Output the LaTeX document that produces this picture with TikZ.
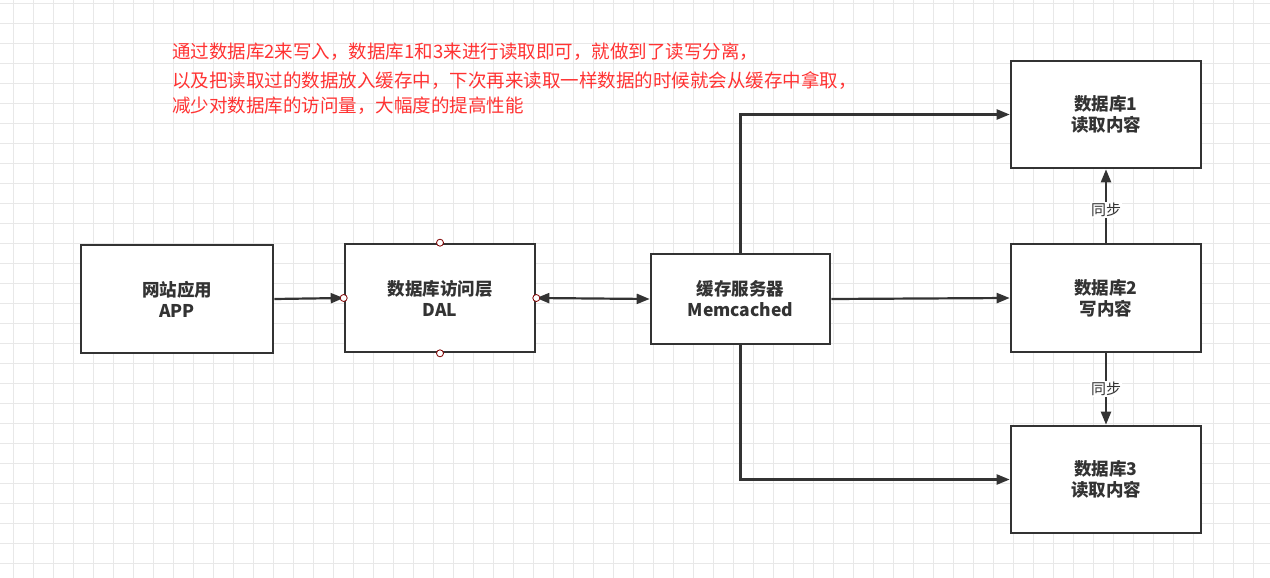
\documentclass[tikz,border=0pt]{standalone}
\usepackage{fontspec}
\setmainfont{Liberation Sans}
\newfontfamily\cjk{Noto Sans CJK SC}
\usetikzlibrary{arrows.meta}
\definecolor{ln}{HTML}{333333}
\definecolor{red1}{HTML}{FF3333}
\begin{document}
\begin{tikzpicture}[x=1pt,y=-1pt,
  box/.style={draw=ln,line width=2.6pt,fill=white,minimum width=#1,align=center,font=\cjk\bfseries\fontsize{17.5}{21}\selectfont,text=ln},
  arr/.style={draw=ln,line width=2.2pt,-{Triangle[length=13pt,width=10pt]}},
  dot/.style={circle,draw=red!50!black,fill=white,inner sep=0pt,minimum size=7pt,line width=0.8pt},
  lab/.style={fill=white,font=\cjk\fontsize{15}{17}\selectfont,text=ln,inner sep=1pt},
  rt/.style={anchor=base west,text=red1,font=\cjk\fontsize{18.5}{22}\selectfont,inner sep=0pt}]
\useasboundingbox (0,0) rectangle (1270,578);
\fill[white] (0,0) rectangle (1270,578);
\foreach \x in {13,33,...,1270} \draw[black!9,line width=0.8pt] (\x,0)--(\x,578);
\foreach \y in {3,23,...,578} \draw[black!9,line width=0.8pt] (0,\y)--(1270,\y);
\node[box=192pt,minimum height=108pt] (app) at (177,299) {网站应用\\APP};
\node[box=190pt,minimum height=108pt] (dal) at (440,298) {数据库访问层\\DAL};
\node[box=179pt,minimum height=90pt] (mem) at (740.5,299) {缓存服务器\\Memcached};
\node[box=190pt,minimum height=107pt] (d1) at (1106,114.5) {数据库1\\读取内容};
\node[box=190pt,minimum height=108pt] (d2) at (1106,298) {数据库2\\写内容};
\node[box=190pt,minimum height=107pt] (d3) at (1106,479.5) {数据库3\\读取内容};
\draw[arr] (app.east) -- (dal.west);
\draw[arr,{Triangle[length=13pt,width=10pt]}-{Triangle[length=13pt,width=10pt]}] (dal.east) -- (mem.west);
\draw[arr] (mem.east) -- (d2.west);
\draw[arr] (mem.north) |- (d1.west);
\draw[arr] (mem.south) |- (d3.west);
\draw[arr] (d2.north) -- node[lab,pos=0.45]{同步} (d1.south);
\draw[arr] (d2.south) -- node[lab,pos=0.5]{同步} (d3.north);
\node[dot] at (dal.north) {};
\node[dot] at (dal.south) {};
\node[dot] at (dal.west) {};
\node[dot] at (dal.east) {};
\node[rt] (t1) at (172,59) {通过数据库2来写入，数据库1和3来进行读取即可，就做到了读写分离，};
\node[rt] (t2) at (172,88) {以及把读取过的数据放入缓存中，下次再来读取一样数据的时候就会从缓存中拿取，};
\node[rt] (t3) at (172,113) {减少对数据库的访问量，大幅度的提高性能};
\end{tikzpicture}
\end{document}
